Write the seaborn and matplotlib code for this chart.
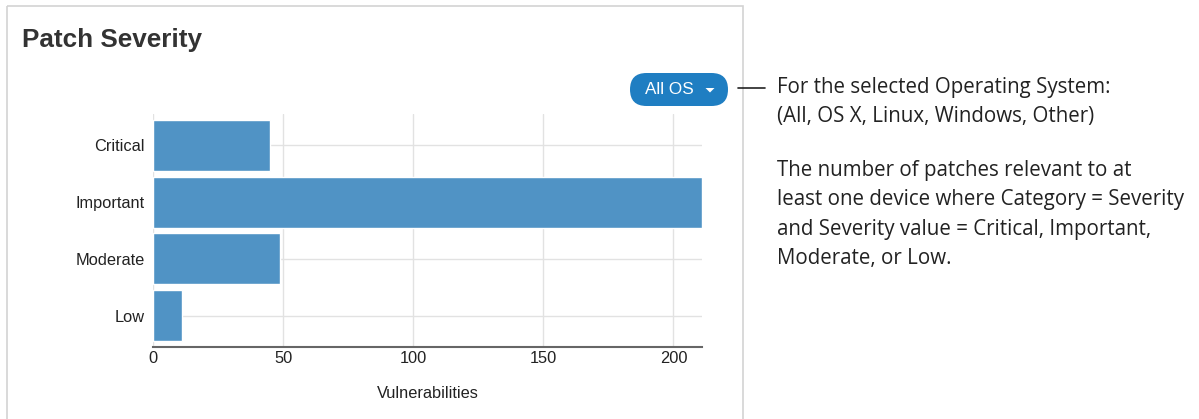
import matplotlib
matplotlib.use("Agg")
import matplotlib.pyplot as plt
from matplotlib.patches import Rectangle, FancyBboxPatch, Polygon
import seaborn as sns
import pandas as pd

# Patch counts by severity
severities = ["Critical", "Important", "Moderate", "Low"]
vulnerabilities = [45, 211, 49, 11]
x_ticks = [0, 50, 100, 150, 200]

title_text = "Patch Severity"
button_text = "All OS"
note_paragraphs = [
    ["For the selected Operating System:",
     "(All, OS X, Linux, Windows, Other)"],
    ["The number of patches relevant to at",
     "least one device where Category = Severity",
     "and Severity value = Critical, Important,",
     "Moderate, or Low."],
]

sns.set_style("whitegrid")
plt.rcParams["font.family"] = ["Liberation Sans", "DejaVu Sans"]

W, H = 1199, 419
fig = plt.figure(figsize=(W / 100, H / 100), dpi=100)
fig.patch.set_facecolor("white")

# Overlay in pixel coordinates for the card, button and notes
ov = fig.add_axes([0, 0, 1, 1], zorder=0)
ov.set_xlim(0, W)
ov.set_ylim(H, 0)
ov.axis("off")

ov.add_patch(Rectangle((6.5, 6.5), 736, 430, fill=False,
                       edgecolor="#d3d3d3", linewidth=1.2))
ov.text(22, 47.5, title_text, fontsize=18.8, fontweight="bold",
        color="#333333", ha="left", va="baseline")

# "All OS" dropdown pill
ov.add_patch(FancyBboxPatch((630, 73), 98, 33,
                            boxstyle="round,pad=0,rounding_size=16.5",
                            facecolor="#1f7ec2", edgecolor="none"))
ov.text(669, 90, button_text, fontsize=12.3, color="white",
        ha="center", va="center")
ov.add_patch(Polygon([(705.5, 88), (714.5, 88), (710, 92.5)],
                     closed=True, facecolor="white", edgecolor="none"))

# Callout line and explanatory notes
ov.plot([738, 765], [88, 88], color="#222222", linewidth=1.2)
y = 87
for para in note_paragraphs:
    for line in para:
        ov.text(777, y, line, fontsize=14.8, color="#222222",
                family=["Open Sans", "DejaVu Sans"], ha="left", va="center")
        y += 29.5
    y += 24

# Bar chart
ax = fig.add_axes([153 / W, 1 - 347 / H, (702 - 153) / W, (347 - 114) / H],
                  zorder=1)
ax.patch.set_alpha(0)
df = pd.DataFrame({"Severity": severities, "Vulnerabilities": vulnerabilities})
sns.barplot(data=df, x="Vulnerabilities", y="Severity", orient="h",
            color="#5093c5", saturation=1, width=0.9, ax=ax)

ax.set_xlim(0, 211)
ax.set_ylim(3.55, -0.55)
ax.set_xticks(x_ticks)
ax.set_axisbelow(True)
ax.grid(True, color="#e2e2e2", linewidth=1)
for side in ["left", "top", "right"]:
    ax.spines[side].set_visible(False)
ax.spines["bottom"].set_color("#666666")
ax.spines["bottom"].set_linewidth(1.5)
ax.tick_params(axis="both", length=0, labelsize=11.8, labelcolor="#222222")
ax.tick_params(axis="x", pad=3)
ax.tick_params(axis="y", pad=6)
ax.set_ylabel("")
ax.set_xlabel("Vulnerabilities", fontsize=11.8, color="#222222", labelpad=14)

fig.savefig("out.png", dpi=100, facecolor="white")
